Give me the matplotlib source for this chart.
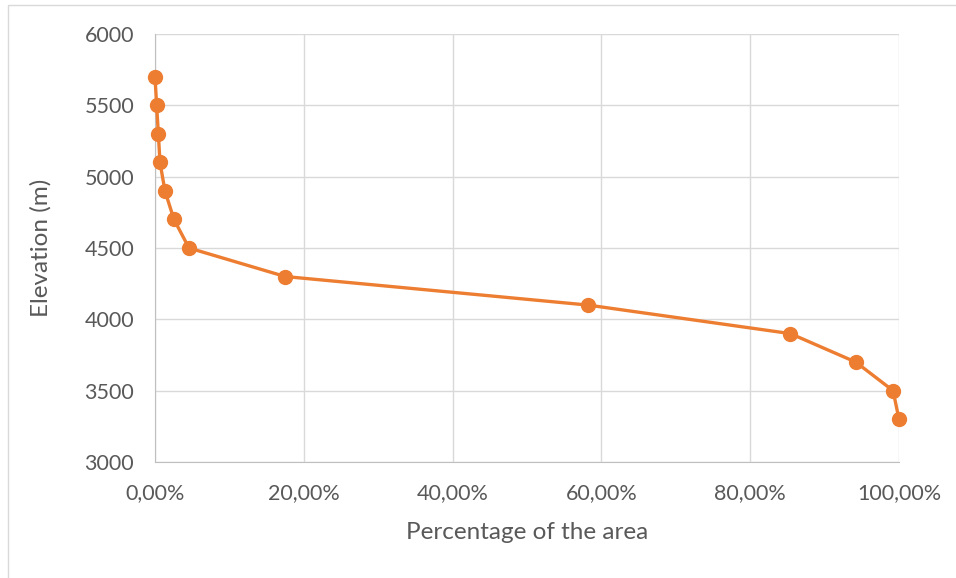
import matplotlib
matplotlib.use("Agg")
import matplotlib.pyplot as plt
from matplotlib.patches import Rectangle
from matplotlib.ticker import FuncFormatter

plt.rcParams["font.family"] = ["Lato", "DejaVu Sans"]

# hypsometric curve: share of the area above each elevation
area_pct = [0.0, 0.22, 0.45, 0.67, 1.34, 2.55, 4.57, 17.5, 58.2, 85.4, 94.2, 99.2, 100.0]
elevation = [5700, 5500, 5300, 5100, 4900, 4700, 4500, 4300, 4100, 3900, 3700, 3500, 3300]

x_ticks = [0, 20, 40, 60, 80, 100]
y_ticks = [3000, 3500, 4000, 4500, 5000, 5500, 6000]

text_col = "#595959"
grid_col = "#D9D9D9"

fig = plt.figure(figsize=(9.56, 5.78), dpi=100)
# thin frame around the chart area
fig.patches.append(Rectangle((8 / 956, -0.01), 1.0, 1.01 - 5 / 578, transform=fig.transFigure,
                             fill=False, edgecolor="#D9D9D9", linewidth=1.0))

ax = fig.add_axes([155 / 956, 116 / 578, 744 / 956, 428 / 578])
ax.plot(area_pct, elevation, color="#ED7D31", linewidth=2.4, marker="o",
        markersize=10, zorder=3, clip_on=False)

ax.set_xlim(0, 100)
ax.set_ylim(3000, 6000)
ax.set_xticks(x_ticks)
ax.set_yticks(y_ticks)
ax.xaxis.set_major_formatter(FuncFormatter(lambda v, p: ("%.2f%%" % v).replace(".", ",")))
ax.grid(True, color=grid_col, linewidth=1.0)
ax.set_axisbelow(True)

for side in ["top", "right"]:
    ax.spines[side].set_visible(False)
ax.spines["left"].set_color("#BFBFBF")
ax.spines["bottom"].set_color("#BFBFBF")
ax.tick_params(length=0, labelsize=15.5, colors=text_col)
ax.tick_params(axis="y", pad=15)
ax.tick_params(axis="x", pad=15)

ax.set_xlabel("Percentage of the area", fontsize=17.5, color=text_col, labelpad=14)
ax.set_ylabel("Elevation (m)", fontsize=17.5, color=text_col, labelpad=24)

plt.savefig("out.png", dpi=100)
